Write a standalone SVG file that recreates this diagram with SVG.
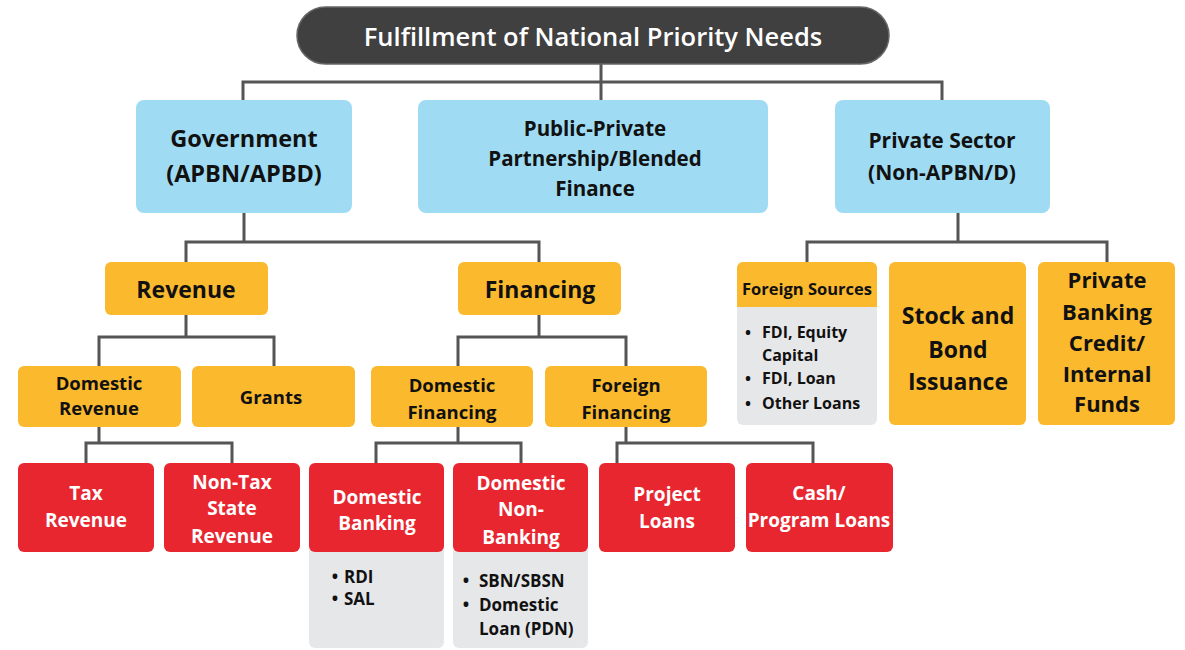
<svg xmlns="http://www.w3.org/2000/svg" width="1185" height="650" viewBox="0 0 1185 650">
<style>
text{font-family:"Open Sans","Liberation Sans",sans-serif;font-weight:700;text-anchor:middle;dominant-baseline:central;fill:#111}
.blue{fill:#9FDCF4}
.org{fill:#FBB92E}
.red{fill:#E8262F}
.grey{fill:#E6E7E9}
.w{fill:#fff}
.l{text-anchor:start}
.conn{fill:none;stroke:#555;stroke-width:3}
</style>
<rect width="1185" height="650" fill="#fff"/>
<g class="conn" id="connectors">
<path d="M601 64V100M243 100V82H942V100"/>
<path d="M244 213V242M186 262V242H539V262"/>
<path d="M958 213V242M807 262V242H1107V262"/>
<path d="M186 315V337M99 366V337H274V366"/>
<path d="M539 315V337M458 366V337H626V366"/>
<path d="M99 427V443M86 463V443H232V463"/>
<path d="M458 427V443M376 463V443H521V463"/>
<path d="M626 427V443M617 463V443H813V463"/>
</g>
<g id="root">
<rect x="297" y="7" width="592" height="57" rx="28.5" fill="#404040" stroke="#666" stroke-width="1.5"/>
<text x="593" y="36" class="w" style="font-weight:600;font-size:25.5px;fill:#fff">Fulfillment of National Priority Needs</text>
</g>
<g id="government">
<rect x="136" y="100" width="216" height="113" rx="8" class="blue"/>
<text x="244" y="138" font-size="23.5">Government</text>
<text x="244" y="173" font-size="23.5">(APBN/APBD)</text>
</g>
<g id="ppp">
<rect x="418" y="100" width="350" height="113" rx="8" class="blue"/>
<text x="595" y="128" font-size="20.5">Public-Private</text>
<text x="595" y="158" font-size="20.5">Partnership/Blended</text>
<text x="595" y="188" font-size="20.5">Finance</text>
</g>
<g id="private">
<rect x="835" y="100" width="215" height="113" rx="8" class="blue"/>
<text x="942" y="140" font-size="21">Private Sector</text>
<text x="942" y="172" font-size="21">(Non-APBN/D)</text>
</g>
<g id="revenue">
<rect x="105" y="262" width="163" height="53" rx="6" class="org"/>
<text x="186" y="289" font-size="23">Revenue</text>
</g>
<g id="financing">
<rect x="458" y="262" width="163" height="53" rx="6" class="org"/>
<text x="540" y="289" font-size="23">Financing</text>
</g>
<g id="domestic-revenue">
<rect x="18" y="366" width="163" height="61" rx="6" class="org"/>
<text x="99" y="382" font-size="18.5">Domestic</text>
<text x="99" y="407" font-size="18.5">Revenue</text>
</g>
<g id="grants">
<rect x="192" y="366" width="163" height="61" rx="6" class="org"/>
<text x="271" y="396" font-size="18.5">Grants</text>
</g>
<g id="domestic-financing">
<rect x="371" y="366" width="162" height="61" rx="6" class="org"/>
<text x="452" y="384" font-size="18.5">Domestic</text>
<text x="452" y="411" font-size="18.5">Financing</text>
</g>
<g id="foreign-financing">
<rect x="545" y="366" width="162" height="61" rx="6" class="org"/>
<text x="626" y="384" font-size="18.5">Foreign</text>
<text x="626" y="411" font-size="18.5">Financing</text>
</g>
<g id="tax-revenue">
<rect x="18" y="463" width="136" height="89" rx="6" class="red"/>
<text x="86" y="493" font-size="19" style="fill:#fff">Tax</text>
<text x="86" y="520" font-size="19" style="fill:#fff">Revenue</text>
</g>
<g id="non-tax">
<rect x="164" y="463" width="136" height="89" rx="6" class="red"/>
<text x="232" y="482" font-size="19" style="fill:#fff">Non-Tax</text>
<text x="232" y="508" font-size="19" style="fill:#fff">State</text>
<text x="232" y="536" font-size="19" style="fill:#fff">Revenue</text>
</g>
<g id="domestic-banking">
<rect x="309" y="530" width="135" height="118" rx="6" class="grey"/>
<rect x="309" y="463" width="135" height="89" rx="6" class="red"/>
<text x="377" y="497" font-size="19" style="fill:#fff">Domestic</text>
<text x="377" y="523" font-size="19" style="fill:#fff">Banking</text>
<text x="335" y="576" font-size="17">•</text>
<text x="344" y="576" font-size="17" class="l">RDI</text>
<text x="335" y="598" font-size="17">•</text>
<text x="344" y="598" font-size="17" class="l">SAL</text>
</g>
<g id="domestic-non-banking">
<rect x="453" y="530" width="135" height="118" rx="6" class="grey"/>
<rect x="453" y="463" width="135" height="89" rx="6" class="red"/>
<text x="521" y="483" font-size="19" style="fill:#fff">Domestic</text>
<text x="521" y="509" font-size="19" style="fill:#fff">Non-</text>
<text x="521" y="537" font-size="19" style="fill:#fff">Banking</text>
<text x="466" y="580" font-size="17">•</text>
<text x="479" y="580" font-size="17" class="l">SBN/SBSN</text>
<text x="466" y="604" font-size="17">•</text>
<text x="479" y="604" font-size="17" class="l">Domestic</text>
<text x="479" y="628" font-size="17" class="l">Loan (PDN)</text>
</g>
<g id="project-loans">
<rect x="599" y="463" width="136" height="89" rx="6" class="red"/>
<text x="667" y="494" font-size="19" style="fill:#fff">Project</text>
<text x="667" y="521" font-size="19" style="fill:#fff">Loans</text>
</g>
<g id="program-loans">
<rect x="746" y="463" width="147" height="89" rx="6" class="red"/>
<text x="819" y="493" font-size="19" style="fill:#fff">Cash/</text>
<text x="819" y="520" font-size="19" style="fill:#fff">Program Loans</text>
</g>
<g id="foreign-sources">
<rect x="737" y="262" width="140" height="163" rx="6" class="grey"/>
<path d="M737 307V268a6 6 0 0 1 6-6H871a6 6 0 0 1 6 6V307Z" class="org"/>
<text x="807" y="288" font-size="16.5">Foreign Sources</text>
<text x="748" y="332" font-size="16">•</text>
<text x="762" y="332" font-size="16" class="l">FDI, Equity</text>
<text x="762" y="355" font-size="16" class="l">Capital</text>
<text x="748" y="378" font-size="16">•</text>
<text x="762" y="378" font-size="16" class="l">FDI, Loan</text>
<text x="748" y="403" font-size="16">•</text>
<text x="762" y="403" font-size="16" class="l">Other Loans</text>
</g>
<g id="stock-bond">
<rect x="889" y="262" width="137" height="163" rx="6" class="org"/>
<text x="958" y="315" font-size="23">Stock and</text>
<text x="958" y="349" font-size="23">Bond</text>
<text x="958" y="381" font-size="23">Issuance</text>
</g>
<g id="private-banking">
<rect x="1038" y="262" width="137" height="163" rx="6" class="org"/>
<text x="1107" y="279" font-size="22">Private</text>
<text x="1107" y="311" font-size="22">Banking</text>
<text x="1107" y="342" font-size="22">Credit/</text>
<text x="1107" y="373" font-size="22">Internal</text>
<text x="1107" y="403" font-size="22">Funds</text>
</g>
</svg>
